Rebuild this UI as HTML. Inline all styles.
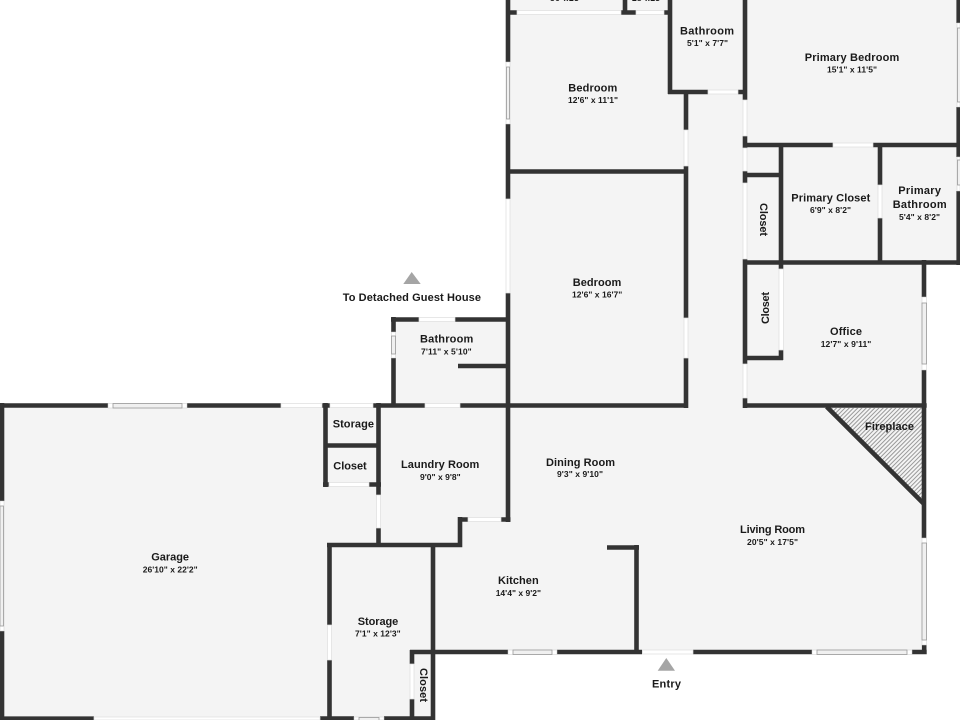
<!DOCTYPE html>
<html><head><meta charset="utf-8"><title>Floor plan</title>
<style>
html,body{margin:0;padding:0;background:#fff;width:960px;height:720px;overflow:hidden}
svg{display:block}
text{font-family:"Liberation Sans",sans-serif;font-weight:700;fill:#1a1a1a}
.n{font-size:11px}
.s{font-size:8.5px}
.d{fill:#fff;stroke:#ddd;stroke-width:.7}
.w{fill:#fff;stroke:#ccc;stroke-width:.5}
.i{fill:#f0f0f0;stroke:#999;stroke-width:.8}
.wl{fill:none;stroke:#333;stroke-width:4.6}
</style></head><body>
<svg width="960" height="720" viewBox="0 0 960 720" xmlns="http://www.w3.org/2000/svg">
<defs><pattern id="h" width="3" height="3" patternUnits="userSpaceOnUse" patternTransform="rotate(45)"><rect width="3" height="3" fill="#f4f4f4"/><line x1="1" y1="0" x2="1" y2="3" stroke="#999" stroke-width="1"/></pattern></defs>
<rect width="960" height="720" fill="#fff"/>
<polygon fill="#f4f4f4" points="508,0 960,0 960,262 924,262 924,652 433,652 433,718 0,718 0,405 393,405 393,320 508,320"/>
<polygon fill="url(#h)" points="828,408 922,408 922,500"/>

<!-- walls -->
<path class="wl" d="M508 0V62M508 124V199M508 293V522
M506 12.5H517M621 12.5H636M664 12.5H672M625 0V12
M670 0V94M668 92H708M738 92H747M745 0V100M745 136V148M745 171V183M745 259V364M745 398V408
M686 94V130M686 166V318M686 358V408M506 171.5H688
M0 405.5H108M187 405.5H281M322 405.5H330M373 405.5H425M460 405.5H688M743 405.5H926.700
M325.500 403V487M323 484.500H329M369 484.500H381M325 445.500H378M378.500 403V495M378.500 528V547
M393.500 317V332M393.500 358V405M391 319.500H419M455 319.500H510M458 366H508
M458 519.500H468M501 519.500H510.500M460 517V547M327 545H462.300
M329.500 543V625M329.500 660V720M433 545V720
M320 718.500H354M384 718.500H435
M410 652H508M557 652H642M693 652H812M912 652H926.700M412 650V664M412 699V720
M607 547.500H639M636.500 545V654
M924 260V297M924 370V538M924.200 645V654
M745 262.500H960M958.700 0V23M958.700 107V157M958.700 191V265
M745 145H833M873 145H960M781 145V269M745 175H781M880 145V185M880 218V262
M743 358H783M781 350V360
M2 403V501M2 631V720M0 718.700H94"/>
<path d="M826.700 406.700L924 504" fill="none" stroke="#333" stroke-width="4.600"/>

<!-- doors -->
<rect class="d" x="517" y="10.500" width="104" height="4"/>
<rect class="d" x="636" y="10.500" width="28" height="4"/>
<rect class="d" x="708" y="90" width="30" height="4"/>
<rect class="d" x="743" y="100" width="4" height="36"/>
<rect class="d" x="743" y="148" width="4" height="23"/>
<rect class="d" x="743" y="183" width="4" height="76"/>
<rect class="d" x="743" y="364" width="4" height="34"/>
<rect class="d" x="684" y="130" width="4" height="36"/>
<rect class="d" x="684" y="318" width="4" height="40"/>
<rect class="d" x="506" y="199" width="4" height="94"/>
<rect class="d" x="833" y="143" width="40" height="4"/>
<rect class="d" x="878" y="185" width="4" height="33"/>
<rect class="d" x="779" y="269" width="4.500" height="81"/>
<rect class="d" x="281" y="403.500" width="41" height="4"/>
<rect class="d" x="330" y="403.500" width="43" height="4"/>
<rect class="d" x="425" y="403.500" width="35" height="4"/>
<rect class="d" x="419" y="317.500" width="36" height="4"/>
<rect class="d" x="329" y="482.500" width="40" height="4"/>
<rect class="d" x="376.500" y="495" width="4" height="33"/>
<rect class="d" x="468" y="517.500" width="33" height="4"/>
<rect class="d" x="327.500" y="625" width="4" height="35"/>
<rect class="d" x="410" y="664" width="4" height="35"/>
<rect class="d" x="642.500" y="650" width="50.500" height="4"/>
<rect class="d" x="94" y="717" width="226" height="3"/>

<!-- windows -->
<rect class="w" x="506" y="62" width="4" height="62"/><rect class="i" x="506.500" y="67" width="3" height="52"/>
<rect class="w" x="922" y="297" width="4.500" height="73"/><rect class="i" x="922" y="303" width="4.500" height="61"/>
<rect class="w" x="922" y="538" width="4.500" height="107"/><rect class="i" x="922" y="543" width="4.500" height="97"/>
<rect class="w" x="957" y="23" width="3" height="84"/><rect class="i" x="957.500" y="28" width="3" height="74"/>
<rect class="w" x="957" y="157" width="3" height="34"/><rect class="i" x="957.500" y="160" width="3" height="25"/>
<rect class="w" x="391.500" y="332" width="4" height="26"/><rect class="i" x="391.500" y="336" width="4" height="18"/>
<rect class="w" x="108" y="403.500" width="79" height="4.500"/><rect class="i" x="113" y="403.500" width="69" height="4.500"/>
<rect class="w" x="0" y="501" width="4" height="130"/><rect class="i" x="0" y="506" width="3.500" height="120"/>
<rect class="w" x="508" y="650" width="49" height="4.500"/><rect class="i" x="513" y="650" width="39" height="4.500"/>
<rect class="w" x="812" y="650" width="100" height="4.500"/><rect class="i" x="817" y="650" width="90" height="4.500"/>
<rect class="w" x="354" y="717" width="30" height="3"/><rect class="i" x="359" y="717.500" width="20" height="3"/>

<!-- markers -->
<polygon fill="#a5a5a5" points="411.700,272 403.300,284 420.700,284"/>
<polygon fill="#a5a5a5" points="666.300,658 657.700,670.700 675,670.700"/>

<!-- labels -->
<text class="s" x="550" y="1" textLength="32" lengthAdjust="spacing">5'6" x 2'3"</text>
<text class="s" x="632" y="1" textLength="31" lengthAdjust="spacing">2'8" x 2'3"</text>
<text class="n" x="568.300" y="91.700" textLength="49" lengthAdjust="spacing">Bedroom</text>
<text class="s" x="568" y="103" textLength="50" lengthAdjust="spacing">12'6" x 11'1"</text>
<text class="n" x="680" y="34.500" textLength="54" lengthAdjust="spacing">Bathroom</text>
<text class="s" x="687" y="46" textLength="41" lengthAdjust="spacing">5'1" x 7'7"</text>
<text class="n" x="804.700" y="61" textLength="94.600" lengthAdjust="spacing">Primary Bedroom</text>
<text class="s" x="827" y="72.700" textLength="50" lengthAdjust="spacing">15'1" x 11'5"</text>
<text class="n" x="791.300" y="201.300" textLength="79" lengthAdjust="spacing">Primary Closet</text>
<text class="s" x="810" y="213" textLength="41" lengthAdjust="spacing">6'9" x 8'2"</text>
<text class="n" x="898.300" y="194" textLength="42.700" lengthAdjust="spacing">Primary</text>
<text class="n" x="892.700" y="208" textLength="54" lengthAdjust="spacing">Bathroom</text>
<text class="s" x="899" y="220" textLength="41" lengthAdjust="spacing">5'4" x 8'2"</text>
<text class="n" transform="translate(760,203) rotate(90)" textLength="33" lengthAdjust="spacing">Closet</text>
<text class="n" transform="translate(769,324) rotate(-90)" textLength="32" lengthAdjust="spacing">Closet</text>
<text class="n" x="572.700" y="286" textLength="48.600" lengthAdjust="spacing">Bedroom</text>
<text class="s" x="572" y="297.700" textLength="50.300" lengthAdjust="spacing">12'6" x 16'7"</text>
<text class="n" x="830" y="335" textLength="32" lengthAdjust="spacing">Office</text>
<text class="s" x="820.700" y="347" textLength="50.600" lengthAdjust="spacing">12'7" x 9'11"</text>
<text class="n" x="865" y="430" textLength="49" lengthAdjust="spacing">Fireplace</text>
<text class="n" x="342.700" y="301" textLength="138.300" lengthAdjust="spacing">To Detached Guest House</text>
<text class="n" x="420" y="342.700" textLength="53.300" lengthAdjust="spacing">Bathroom</text>
<text class="s" x="421" y="354.700" textLength="50.700" lengthAdjust="spacing">7'11" x 5'10"</text>
<text class="n" x="332.700" y="427.700" textLength="41.300" lengthAdjust="spacing">Storage</text>
<text class="n" x="333.300" y="469.300" textLength="33.400" lengthAdjust="spacing">Closet</text>
<text class="n" x="401" y="468" textLength="78.300" lengthAdjust="spacing">Laundry Room</text>
<text class="s" x="420" y="480" textLength="40.700" lengthAdjust="spacing">9'0" x 9'8"</text>
<text class="n" x="546" y="466" textLength="69" lengthAdjust="spacing">Dining Room</text>
<text class="s" x="557" y="477" textLength="46" lengthAdjust="spacing">9'3" x 9'10"</text>
<text class="n" x="740" y="533" textLength="65" lengthAdjust="spacing">Living Room</text>
<text class="s" x="747" y="545" textLength="51" lengthAdjust="spacing">20'5" x 17'5"</text>
<text class="n" x="498" y="584" textLength="40.700" lengthAdjust="spacing">Kitchen</text>
<text class="s" x="495.700" y="596" textLength="45.300" lengthAdjust="spacing">14'4" x 9'2"</text>
<text class="n" x="357.700" y="625" textLength="40.600" lengthAdjust="spacing">Storage</text>
<text class="s" x="355" y="636.700" textLength="45.700" lengthAdjust="spacing">7'1" x 12'3"</text>
<text class="n" transform="translate(420,668) rotate(90)" textLength="34" lengthAdjust="spacing">Closet</text>
<text class="n" x="151.300" y="560.700" textLength="37.700" lengthAdjust="spacing">Garage</text>
<text class="s" x="142.700" y="572.300" textLength="55" lengthAdjust="spacing">26'10" x 22'2"</text>
<text class="n" x="652" y="687.700" textLength="29" lengthAdjust="spacing">Entry</text>
</svg>
</body></html>
